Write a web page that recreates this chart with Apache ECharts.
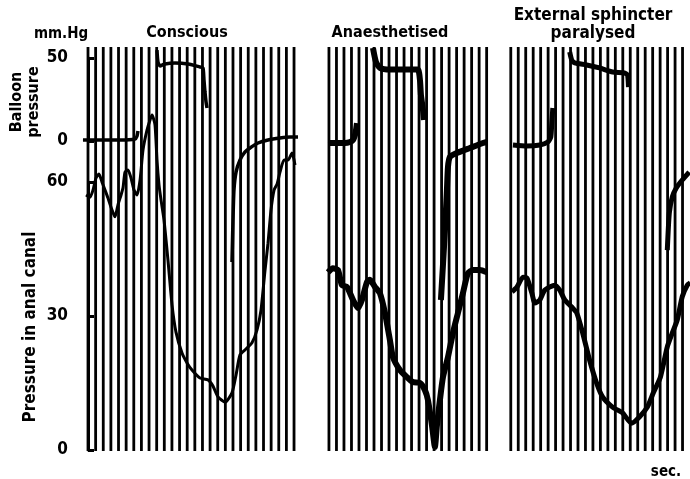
<!DOCTYPE html>
<html>
<head>
<meta charset="utf-8">
<script src="https://cdn.jsdelivr.net/npm/echarts@6/dist/echarts.min.js"></script>
<style>
html,body{margin:0;padding:0;background:#fff;}
#chart{width:690px;height:479px;}
</style>
</head>
<body>
<div id="chart"></div>
<script>
// ---- Data (time in seconds within each recording, pressure in mm Hg) ----
var panelTitles = ['Conscious', 'Anaesthetised', 'External sphincter\nparalysed'];
var balloonTicks = [0, 50];
var canalTicks = [0, 30, 60];

// one-second time marks per recording
var consciousSeconds = [0,1,2,3,4,5,6,7,8,9,10,11,12,13,14,15,16,17,18,19,20,21,22,23,24,25,26,27];
var anaesthSeconds = [0,1,2,3,4,5,6,7,8,9,10,11,12,13,14,15,16,17,18,19,20,21];
var paralysedSeconds = [0,1,2,3,4,5,6,7,8,9,10,11,12,13,14,15,16,17,18,19,20,21,22,23];

// balloon pressure traces (null = pen moving too fast to leave a trace)
var consciousBalloon = [
  [-0.66,0.6],[1.57,0.6],[4.19,0.6],[6.16,1.2],[6.42,3.0],[6.55,6.0], null,
  [9.04,54.8],[9.17,47.6],[9.44,45.2],[10.09,46.4],[11.40,47.0],[13.11,46.4],[14.68,44.6],[15.07,44.0],[15.20,36.7],[15.33,29.5],[15.47,23.5],[15.60,19.9], null,
  [18.87,-72.9],[19.00,-47.6],[19.13,-29.5],[19.40,-18.7],[19.92,-11.4],[20.58,-6.6],[21.23,-4.2],[22.28,-1.2],[23.59,0.6],[25.16,1.8],[26.47,2.4],[27.52,2.4]
];
var anaesthBalloon = [
  [-0.13,-1.2],[0.8,-1.2],[2.13,-1.2],[2.8,-0.6],[3.2,0.6],[3.46,3.6],[3.6,6.6],[3.73,10.8], null,
  [5.86,56.0],[6.26,47.6],[6.79,44.0],[8.12,43.0],[9.45,43.0],[10.79,43.0],[11.85,43.0],[12.12,36.7],[12.25,27.7],[12.52,18.7],[12.65,12.7], null,
  [14.91,-95.8],[15.45,-53.6],[15.71,-29.5],[15.85,-15.7],[16.11,-9.6],[17.04,-7.2],[18.77,-4.2],[20.51,-1.2],[21.04,-0.6]
];
var paralysedBalloon = [
  [0.29,-2.4],[2.16,-3.0],[3.89,-2.4],[4.96,-0.6],[5.36,2.4],[5.49,10.8],[5.63,19.9], null,
  [7.89,53.6],[8.16,48.8],[8.56,47.0],[10.16,45.8],[11.89,44.0],[13.63,41.6],[15.23,41.0],[15.63,39.8],[15.76,32.5], null,
  [19.0,-186],[19.6,-159],[20.8,-153.6], null,
  [20.96,-65.7],[21.23,-43.4],[21.63,-33.7],[22.16,-28.3],[22.96,-23.5],[23.89,-18.7]
];

// anal canal pressure traces
var consciousCanal = [
  [-0.26,57.1],[0.26,56.6],[0.66,58.2],[1.05,60.9],[1.44,61.8],[1.83,60.0],[2.23,58.2],[2.62,56.4],[3.15,53.7],[3.54,52.2],
  [3.93,54.9],[4.33,57.1],[4.59,58.7],[4.85,62.2],[5.24,62.7],[5.64,60.9],[6.03,58.2],[6.42,57.1],[6.82,60.4],[7.21,67.2],
  [7.73,71.6],[8.13,73.9],[8.39,75.0],[8.78,72.8],[9.04,64.9],[9.31,59.3],[9.57,56.0],[9.96,51.5],[10.48,42.5],[11.01,32.5],
  [11.53,26.4],[12.32,21.7],[12.98,19.5],[13.63,17.9],[14.68,16.1],[15.73,15.7],[16.38,14.3],[17.04,11.9],[17.96,10.7],[18.87,12.8],
  [19.40,16.8],[19.92,21.3],[20.71,22.6],[21.49,24.0],[22.15,26.9],[22.67,31.3],[23.20,40.3],[23.59,46.3],[23.98,53.7],[24.38,58.2],
  [24.77,59.5],[25.16,62.2],[25.69,64.9],[26.21,64.9],[26.74,66.5],[27.13,63.8]
];
var anaesthCanal = [
  [-0.13,39.8],[0.53,40.7],[1.20,40.3],[1.73,36.9],[2.40,36.5],[3.20,33.6],[3.86,31.8],[4.39,33.6],[5.06,37.6],[5.46,38.1],
  [6.13,36.5],[6.79,35.1],[7.46,30.7],[8.12,24.6],[8.52,20.8],[9.45,17.9],[10.39,16.3],[11.19,15.2],[12.12,15.0],[12.78,13.4],
  [13.18,11.2],[13.72,5.5],[14.11,0.7],[14.38,5.5],[14.78,11.2],[15.18,16.3],[15.85,20.8],[16.51,26.2],[17.18,30.7],[17.84,35.1],
  [18.51,39.6],[19.17,40.3],[20.11,40.3],[21.04,39.8]
];
var paralysedCanal = [
  [0.16,35.4],[0.83,36.5],[1.63,38.7],[2.16,38.5],[2.83,35.1],[3.23,32.9],[3.89,33.6],[4.56,35.8],[5.89,36.9],[6.56,35.8],
  [7.23,33.6],[8.16,32.0],[8.83,30.7],[9.63,26.2],[10.56,20.1],[11.49,15.0],[12.29,11.9],[13.63,9.6],[14.96,8.3],[16.16,6.0],
  [17.23,7.4],[18.29,9.6],[19.09,12.8],[20.03,16.3],[20.96,23.1],[21.63,26.2],[22.29,29.1],[22.96,34.3],[23.63,36.9],[24.03,37.4]
];

// ---- Layout ----
var panels = [
  {left: 82, width: 216, min: -0.786, max: 27.52, secs: consciousSeconds, balloon: consciousBalloon, canal: consciousCanal, wB: 3.5, wC: 3},
  {left: 325.2, width: 165.2, min: -0.5, max: 21.5, secs: anaesthSeconds, balloon: anaesthBalloon, canal: anaesthCanal, wB: 6, wC: 6},
  {left: 507.05, width: 183.75, min: -0.5, max: 24, secs: paralysedSeconds, balloon: paralysedBalloon, canal: paralysedCanal, wB: 5, wC: 5}
];

function segments(arr) {
  var out = [], cur = [];
  arr.forEach(function (p) {
    if (p === null) { if (cur.length) out.push(cur); cur = []; }
    else cur.push(p);
  });
  if (cur.length) out.push(cur);
  return out;
}

var FONT = '"DejaVu Sans Condensed", "DejaVu Sans", sans-serif';
var grid = [], xAxis = [], yAxis = [], series = [];

panels.forEach(function (p, i) {
  var first = (i === 0);
  var gU = grid.length;
  grid.push({left: p.left, width: p.width, top: 58, height: 83});
  grid.push({left: p.left, width: p.width, top: 182, height: 268});
  grid.push({left: p.left, width: p.width, top: 47, height: 404});
  for (var k = 0; k < 3; k++) {
    xAxis.push({type: 'value', gridIndex: gU + k, min: p.min, max: p.max, show: false});
  }
  var axisCommon = {
    axisLine: {show: first, lineStyle: {color: '#000', width: 3}},
    axisTick: {show: first, inside: true, length: 6, lineStyle: {color: '#000', width: 3}},
    axisLabel: {show: first, color: '#000', fontFamily: FONT, fontWeight: 'bold', fontSize: 17, margin: 14},
    splitLine: {show: false}
  };
  yAxis.push(Object.assign({type: 'value', gridIndex: gU, min: 0, max: 50, interval: 50}, axisCommon));
  yAxis.push(Object.assign({type: 'value', gridIndex: gU + 1, min: 0, max: 60, interval: 30}, axisCommon));
  yAxis.push({type: 'value', gridIndex: gU + 2, min: 0, max: 1, show: false});

  // one-second time marks
  series.push({
    type: 'custom', xAxisIndex: gU + 2, yAxisIndex: gU + 2, silent: true,
    data: p.secs.map(function (s) { return [s, 0]; }),
    encode: {x: 0, y: 1},
    renderItem: function (params, api) {
      var t = api.value(0);
      var a = api.coord([t, 0]), b = api.coord([t, 1]);
      return {type: 'line', shape: {x1: a[0], y1: a[1], x2: b[0], y2: b[1]},
              style: {stroke: '#000', lineWidth: 2.8}};
    }
  });
  segments(p.balloon).forEach(function (seg) {
    series.push({type: 'line', xAxisIndex: gU, yAxisIndex: gU, data: seg, symbol: 'none',
      smooth: 0.2, clip: false, silent: true, lineStyle: {color: '#000', width: p.wB}, z: 5});
  });
  segments(p.canal).forEach(function (seg) {
    series.push({type: 'line', xAxisIndex: gU + 1, yAxisIndex: gU + 1, data: seg, symbol: 'none',
      smooth: 0.2, clip: false, silent: true, lineStyle: {color: '#000', width: p.wC}, z: 5});
  });
});

function txt(text, x, y, size, rot) {
  return {type: 'text', x: x, y: y, rotation: rot || 0, silent: true,
    style: {text: text, fill: '#000', font: 'bold ' + size + 'px ' + FONT,
      textAlign: 'center', textVerticalAlign: 'middle', align: 'center', verticalAlign: 'middle', lineHeight: size + 1}};
}

var chart = echarts.init(document.getElementById('chart'), null, {renderer: 'canvas'});
chart.setOption({
  animation: false,
  backgroundColor: '#fff',
  grid: grid, xAxis: xAxis, yAxis: yAxis, series: series,
  graphic: [
    txt('mm.Hg', 61, 34, 15),
    txt(panelTitles[0], 187, 33, 16),
    txt(panelTitles[1], 390, 33, 16),
    txt(panelTitles[2], 593, 25, 17),
    txt('Balloon\npressure', 25, 102, 16, Math.PI / 2),
    txt('Pressure in anal canal', 31, 327, 17, Math.PI / 2),
    txt('sec.', 666, 472, 15)
  ]
});
</script>
</body>
</html>
